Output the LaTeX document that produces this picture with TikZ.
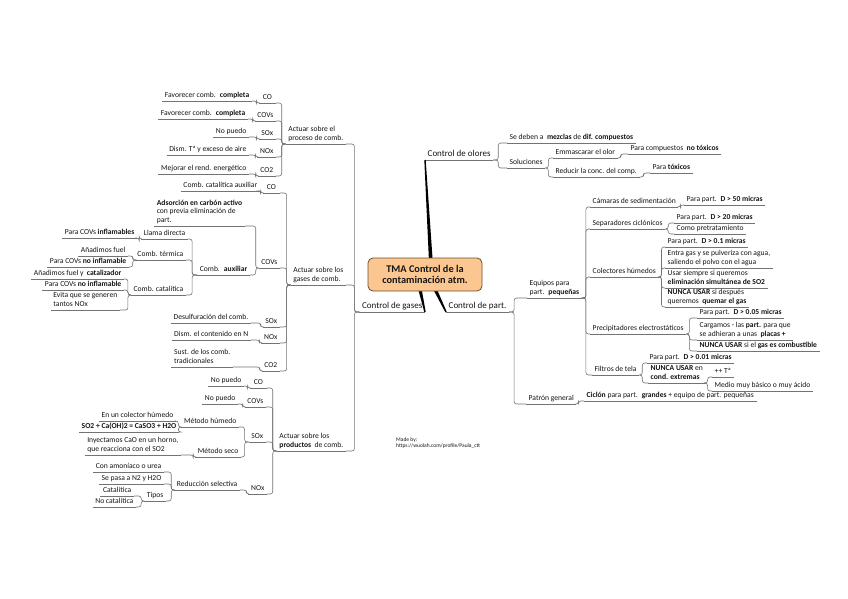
\documentclass[tikz,border=0pt]{standalone}
\usepackage{fontspec}
\setmainfont{Carlito}
\usetikzlibrary{calc}
\definecolor{txt}{HTML}{151515}
\definecolor{lgray}{HTML}{737373}
\definecolor{cfill}{HTML}{FBC690}
\definecolor{cdraw}{HTML}{6B4E2E}
\tikzset{
  uline/.style={draw=lgray, line width=0.6pt},
  conn/.style={draw=lgray, line width=0.6pt, rounded corners=2.5pt},
  topic/.style={font=\fontsize{7.6}{8.8}\selectfont, text=txt, inner xsep=2.5pt, inner ysep=0.5pt,
    minimum width=17pt, align=left, execute at end node=\strut,
    append after command={(\tikzlastnode.south west) edge[uline] (\tikzlastnode.south east)}},
  lnode/.style={topic, anchor=south east},
  rnode/.style={topic, anchor=south west},
  mainb/.style={topic, font=\fontsize{9}{10}\selectfont},
}
\newcommand\lconn[3][4]{\draw[conn] (#2.south west) -- ++(-#1,0) |- (#3.south east);}
\newcommand\rconn[3][4]{\draw[conn] (#2.south east) -- ++(#1,0) |- (#3.south west);}
\newcommand\thk[2]{\fill[black] ($(#1)!1.9pt!90:(#2)$) -- ($(#2)!0.7pt!-90:(#1)$) -- ($(#2)!0.7pt!90:(#1)$) -- ($(#1)!1.9pt!-90:(#2)$) -- cycle;}
\begin{document}
\begin{tikzpicture}[x=1pt,y=-1pt]
\fill[white] (0,0) rectangle (848,599);
\useasboundingbox (0,0) rectangle (848,599);

% ---------- main branches
\node[mainb, anchor=south east] (gases) at (425,312) {Control de gases};
\node[mainb, anchor=south west] (olores) at (425,160) {Control de olores};
\node[mainb, anchor=south west] (part) at (446,312) {Control de part.};

% ---------- left: control de gases
\node[lnode] (proc) at (346,144) {Actuar sobre el\\proceso de comb.};
\node[lnode] (gasc) at (346,285) {Actuar sobre los\\gases de comb.};
\node[lnode] (prod) at (346,451) {Actuar sobre los\\\textbf{productos}~ de comb.};

\node[lnode] (pco) at (276,103) {CO};
\node[lnode] (pcov) at (276,121) {COVs};
\node[lnode] (pso) at (276,139) {SOx};
\node[lnode] (pno) at (276,157) {NOx};
\node[lnode] (pco2) at (276,176) {CO2};
\node[lnode] (pcoa) at (252,101) {Favorecer comb.~ \textbf{completa}};
\node[lnode] (pcova) at (248,119) {Favorecer comb.~ \textbf{completa}};
\node[lnode] (psoa) at (249,137) {No puedo};
\node[lnode] (pnoa) at (249,155) {Dism. Tª y exceso de aire};
\node[lnode] (pco2a) at (249,174) {Mejorar el rend. energético};

\node[lnode] (gco) at (280,193) {CO};
\node[lnode] (gcov) at (280,268) {COVs};
\node[lnode] (gso) at (280,327) {SOx};
\node[lnode] (gno) at (280,343) {NOx};
\node[lnode] (gco2) at (280,371) {CO2};
\node[lnode] (gcoa) at (260,191) {Comb. catalítica auxiliar};
\node[lnode] (ads) at (245,226) {\textbf{Adsorción en carbón activo}\\con previa eliminación de\\part.};
\node[lnode] (caux) at (250,275) {Comb.~ \textbf{auxiliar}};
\node[lnode] (gsoa) at (251,323) {Desulfuración del comb.};
\node[lnode] (gnoa) at (251,340) {Dism. el contenido en N};
\node[lnode] (gco2a) at (233,367) {Sust. de los comb.\\tradicionales};

\node[lnode] (llama) at (188,239) {Llama directa};
\node[lnode] (cterm) at (186,260) {Comb. térmica};
\node[lnode] (ccat) at (186,295) {Comb. catalítica};
\node[lnode] (llamaa) at (137,238) {Para COVs \textbf{inflamables}};
\node[lnode] (cterma) at (128,256) {Añadimos fuel};
\node[lnode] (ctermb) at (129,267) {Para COVs \textbf{no inflamable}};
\node[lnode] (ccata) at (124,279) {Añadimos fuel y~ \textbf{catalizador}};
\node[lnode] (ccatb) at (124,290) {Para COVs \textbf{no inflamable}};
\node[lnode] (ccatc) at (120,310) {Evita que se generen\\tantos NOx};

\node[lnode] (rco) at (267,388) {CO};
\node[lnode] (rcov) at (266,407) {COVs};
\node[lnode] (rso) at (266,442) {SOx};
\node[lnode] (rno) at (267,494) {NOx};
\node[lnode] (rcoa) at (244,386) {No puedo};
\node[lnode] (rcova) at (238,404) {No puedo};
\node[lnode] (mhum) at (239,427) {Método húmedo};
\node[lnode] (mseco) at (241,457) {Método seco};
\node[lnode] (mhuma) at (176,421) {En un colector húmedo};
\node[lnode] (mhumb) at (179,432) {\textbf{SO2 + Ca(OH)2 = CaSO3 + H2O}};
\node[lnode] (msecoa) at (181,455) {Inyectamos CaO en un horno,\\que reacciona con el SO2};
\node[lnode] (rnoa) at (240,490) {Reducción selectiva};
\node[lnode] (rnob) at (164,472) {Con amoníaco o urea};
\node[lnode] (rnoc) at (164,484) {Se pasa a N2 y H2O};
\node[lnode] (tipos) at (166,501) {Tipos};
\node[lnode] (cat) at (134,496) {Catalítica};
\node[lnode] (nocat) at (136,507) {No catalítica};

% ---------- right: olores
\node[rnode] (deben) at (507,143) {Se deben a~ \textbf{mezclas} de \textbf{dif. compuestos}};
\node[rnode] (sol) at (507,168) {Soluciones};
\node[rnode] (emm) at (553,158) {Emmascarar el olor};
\node[rnode] (red) at (553,177) {Reducir la conc. del comp.};
\node[rnode] (emma) at (628,154) {Para compuestos~ \textbf{no tóxicos}};
\node[rnode] (reda) at (650,173) {Para \textbf{tóxicos}};

% ---------- right: part
\node[rnode] (equ) at (527,298) {Equipos para\\part.~ \textbf{pequeñas}};
\node[rnode] (pat) at (526,404) {Patrón general};
\node[rnode] (cam) at (590,207) {Cámaras de sedimentación};
\node[rnode] (sep) at (590,229) {Separadores ciclónicos};
\node[rnode] (col) at (590,277) {Colectores húmedos};
\node[rnode] (pre) at (590,334) {Precipitadores electrostáticos};
\node[rnode] (fil) at (592,375) {Filtros de tela};
\node[rnode] (cama) at (684,205) {Para part.~ \textbf{D > 50 micras}};
\node[rnode] (sepa) at (674,223) {Para part.~ \textbf{D > 20 micras}};
\node[rnode] (sepb) at (674,234) {Como pretratamiento};
\node[rnode] (cola) at (665,247) {Para part.~ \textbf{D > 0.1 micras}};
\node[rnode] (colb) at (665,268) {Entra gas y se pulveriza con agua,\\saliendo el polvo con el agua};
\node[rnode] (colc) at (665,288) {Usar siempre si queremos\\\textbf{eliminación simultánea de SO2}};
\node[rnode] (cold) at (665,307) {\textbf{NUNCA USAR} si después\\queremos~ \textbf{quemar el gas}};
\node[rnode] (prea) at (697,318) {Para part.~ \textbf{D > 0.05 micras}};
\node[rnode] (preb) at (697,340) {Cargamos - las \textbf{part.} para que\\se adhieran a unas~ \textbf{placas +}};
\node[rnode] (prec) at (697,351) {\textbf{NUNCA USAR} si el \textbf{gas es combustible}};
\node[rnode] (fila) at (647,363) {Para part.~ \textbf{D > 0.01 micras}};
\node[rnode] (nunca) at (648,383) {\textbf{NUNCA USAR} en\\\textbf{cond. extremas}};
\node[rnode] (nuncaa) at (712,377) {++ Tª};
\node[rnode] (nuncab) at (712,391) {Medio muy básico o muy ácido};
\node[rnode] (pata) at (584,401) {\textbf{Ciclón} para part.~ \textbf{grandes} + equipo de part. pequeñas};

% ---------- made by
\node[font=\fontsize{5.5}{6.6}\selectfont, align=left, anchor=north west, text=txt, inner sep=0pt] (made) at (396,437) {Made by:\\https://wuolah.com/profile/Paula\_ctt};

% ---------- connectors
\lconn[5]{gases}{proc} \lconn[5]{gases}{gasc} \lconn[5]{gases}{prod}
\lconn{proc}{pco} \lconn{proc}{pcov} \lconn{proc}{pso} \lconn{proc}{pno} \lconn{proc}{pco2}
\lconn[2]{pco}{pcoa} \lconn[2]{pcov}{pcova} \lconn[2]{pso}{psoa} \lconn[2]{pno}{pnoa} \lconn[2]{pco2}{pco2a}
\lconn{gasc}{gco} \lconn{gasc}{gcov} \lconn{gasc}{gso} \lconn{gasc}{gno} \lconn{gasc}{gco2}
\lconn[2]{gco}{gcoa} \lconn[3]{gcov}{ads} \lconn[3]{gcov}{caux}
\lconn[2]{gso}{gsoa} \lconn[2]{gno}{gnoa} \lconn[2]{gco2}{gco2a}
\lconn[5]{caux}{llama} \lconn[5]{caux}{cterm} \lconn[5]{caux}{ccat}
\lconn[2]{llama}{llamaa}
\lconn[2]{cterm}{cterma} \lconn[2]{cterm}{ctermb}
\lconn[3]{ccat}{ccata} \lconn[3]{ccat}{ccatb} \lconn[3]{ccat}{ccatc}
\lconn{prod}{rco} \lconn{prod}{rcov} \lconn{prod}{rso} \lconn{prod}{rno}
\lconn[2]{rco}{rcoa} \lconn[2]{rcov}{rcova}
\lconn[4]{rso}{mhum} \lconn[4]{rso}{mseco}
\lconn[3]{mhum}{mhuma} \lconn[3]{mhum}{mhumb}
\lconn[2]{mseco}{msecoa}
\lconn[2]{rno}{rnoa}
\lconn[3]{rnoa}{rnob} \lconn[3]{rnoa}{rnoc} \lconn[3]{rnoa}{tipos}
\lconn[3]{tipos}{cat} \lconn[3]{tipos}{nocat}

\rconn[5]{olores}{deben} \rconn[5]{olores}{sol}
\rconn[3]{sol}{emm} \rconn[3]{sol}{red}
\rconn[3]{emm}{emma} \rconn[4]{red}{reda}
\rconn[5]{part}{equ} \rconn[5]{part}{pat}
\rconn{equ}{cam} \rconn{equ}{sep} \rconn{equ}{col} \rconn{equ}{pre} \rconn{equ}{fil}
\rconn[2]{cam}{cama}
\rconn[3]{sep}{sepa} \rconn[3]{sep}{sepb}
\rconn[3]{col}{cola} \rconn[3]{col}{colb} \rconn[3]{col}{colc} \rconn[3]{col}{cold}
\rconn[3]{pre}{prea} \rconn[3]{pre}{preb} \rconn[3]{pre}{prec}
\rconn[3]{fil}{fila} \rconn[3]{fil}{nunca}
\rconn[2]{nunca}{nuncaa} \rconn[2]{nunca}{nuncab}
\rconn[2]{pat}{pata}

% ---------- central topic
\coordinate (ro) at (431,264);
\coordinate (rg) at (419,285);
\coordinate (rp) at (433,285);
\thk{ro}{olores.south west}
\thk{rg}{gases.south east}
\thk{rp}{part.south west}
\node[draw=cdraw, fill=cfill, rounded corners=5pt, line width=0.8pt, minimum width=114pt,
  minimum height=33pt, align=center, text=txt, inner sep=2pt,
  font=\fontsize{10.3}{11.5}\selectfont\bfseries] (root) at (425,274.5)
  {TMA Control de la\\contaminación atm.};
\end{tikzpicture}
\end{document}
